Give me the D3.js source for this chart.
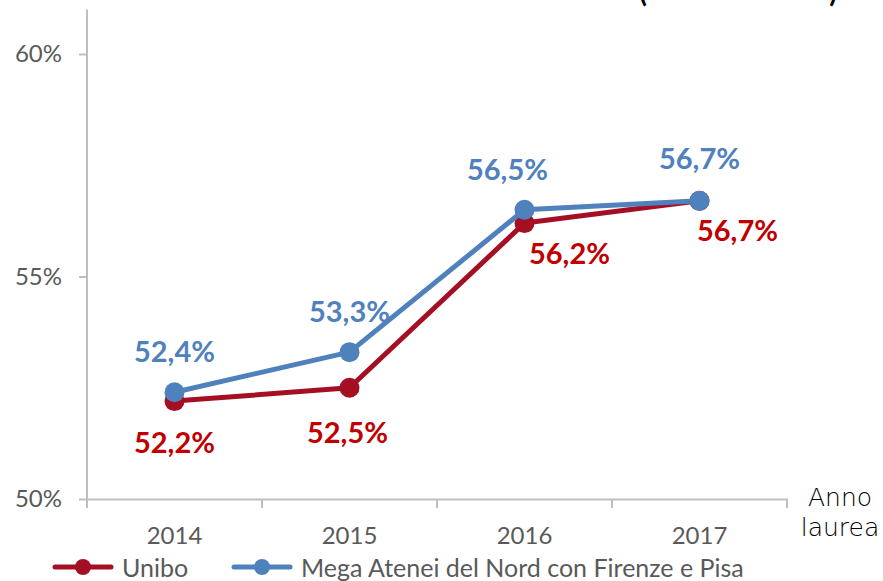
<!DOCTYPE html>
<html><head><meta charset="utf-8">
<script src="https://cdn.jsdelivr.net/npm/d3@7"></script>
<style>body{margin:0;background:#fff}svg{display:block}</style>
</head><body>
<svg id="c" width="883" height="581"></svg>
<script>
const years = ["2014","2015","2016","2017"];
const unibo = [52.2, 52.5, 56.2, 56.7];
const mega = [52.4, 53.3, 56.5, 56.7];
const yTicks = [50, 55, 60];
const seriesNames = ["Unibo", "Mega Atenei del Nord con Firenze e Pisa"];

const svg = d3.select("#c");
const x = d3.scaleBand().domain(years).range([87, 787]);
const y = d3.scaleLinear().domain([50, 61]).range([499, 9.5]);
const fmt = v => v.toFixed(1).replace(".", ",") + "%";
const axisCol = "#BFBFBF", txtCol = "#595959";
const redLine = "#A50F24", redTxt = "#C00000", blue = "#4F81BD";

// partially visible title
svg.append("text").attr("x", 643).attr("y", 2).attr("font-family","Lato").attr("font-weight","bold")
  .attr("font-size", 28).attr("fill","#000").attr("text-anchor","middle").text("(");
svg.append("text").attr("x", 833).attr("y", 2).attr("font-family","Lato").attr("font-weight","bold")
  .attr("font-size", 28).attr("fill","#000").attr("text-anchor","middle").text(")");

// y axis
const ya = svg.append("g").attr("transform","translate(87,0)")
  .call(d3.axisLeft(y).tickValues(yTicks).tickSize(8).tickPadding(17).tickFormat(d => d + "%"));
ya.select(".domain").remove();
ya.selectAll("line").attr("stroke", axisCol).attr("stroke-width", 2);
ya.selectAll("text").attr("font-family","Lato").attr("font-size", 24).attr("fill", txtCol);
svg.append("line").attr("x1",87).attr("x2",87).attr("y1",y(61)).attr("y2",y(50))
  .attr("stroke",axisCol).attr("stroke-width",2);

// x axis
const xa = svg.append("g").attr("transform","translate(0,499)")
  .call(d3.axisBottom(x).tickSize(0).tickPadding(28));
xa.select(".domain").attr("stroke", axisCol).attr("stroke-width", 2);
xa.selectAll("text").attr("font-family","Lato").attr("font-size", 24).attr("fill", txtCol);
const bounds = years.map(d => x(d)).concat([x.range()[1]]);
svg.append("g").selectAll("line").data(bounds).join("line")
  .attr("x1", d => d).attr("x2", d => d).attr("y1", 499).attr("y2", 508)
  .attr("stroke", axisCol).attr("stroke-width", 2);

svg.append("text").attr("x", 840).attr("y", 506).attr("text-anchor","middle")
  .attr("font-family","DejaVu Sans").attr("font-weight","300").attr("font-size", 25).attr("fill","#000").text("Anno");
svg.append("text").attr("x", 840).attr("y", 536).attr("text-anchor","middle")
  .attr("font-family","DejaVu Sans").attr("font-weight","300").attr("font-size", 25).attr("fill","#000").text("laurea");

const cx = d => x(d) + x.bandwidth() / 2;
const line = d3.line().x((d, i) => cx(years[i])).y(d => y(d));

function drawSeries(vals, col) {
  svg.append("path").datum(vals).attr("d", line).attr("fill","none")
    .attr("stroke", col).attr("stroke-width", 5).attr("stroke-linejoin","round");
  svg.append("g").selectAll("circle").data(vals).join("circle")
    .attr("cx", (d, i) => cx(years[i])).attr("cy", d => y(d)).attr("r", 10).attr("fill", col);
}
drawSeries(unibo, redLine);
drawSeries(mega, blue);

// label offsets (dx, dy relative to point, baseline)
const redOff = [[0, 52], [-2, 55], [45, 41], [38, 40]];
const blueOff = [[0, -30], [0, -30], [-17, -30], [0, -32]];
function labels(vals, off, col) {
  svg.append("g").selectAll("text").data(vals).join("text")
    .attr("x", (d, i) => cx(years[i]) + off[i][0]).attr("y", (d, i) => y(d) + off[i][1])
    .attr("text-anchor","middle").attr("font-family","Lato").attr("font-weight","bold")
    .attr("font-size", 29).attr("fill", col).text(d => fmt(d));
}
labels(unibo, redOff, redTxt);
labels(mega, blueOff, blue);

// legend
const leg = [{x: 55, col: redLine, name: seriesNames[0]}, {x: 234, col: blue, name: seriesNames[1]}];
const lg = svg.append("g").selectAll("g").data(leg).join("g");
lg.append("line").attr("x1", d => d.x).attr("x2", d => d.x + 56).attr("y1", 567).attr("y2", 567)
  .attr("stroke", d => d.col).attr("stroke-width", 5).attr("stroke-linecap","round");
lg.append("circle").attr("cx", d => d.x + 28).attr("cy", 567).attr("r", 8).attr("fill", d => d.col);
lg.append("text").attr("x", d => d.x + 67).attr("y", 577).attr("font-family","Lato")
  .attr("font-size", 25).attr("fill", txtCol).text(d => d.name);
</script>
</body></html>
